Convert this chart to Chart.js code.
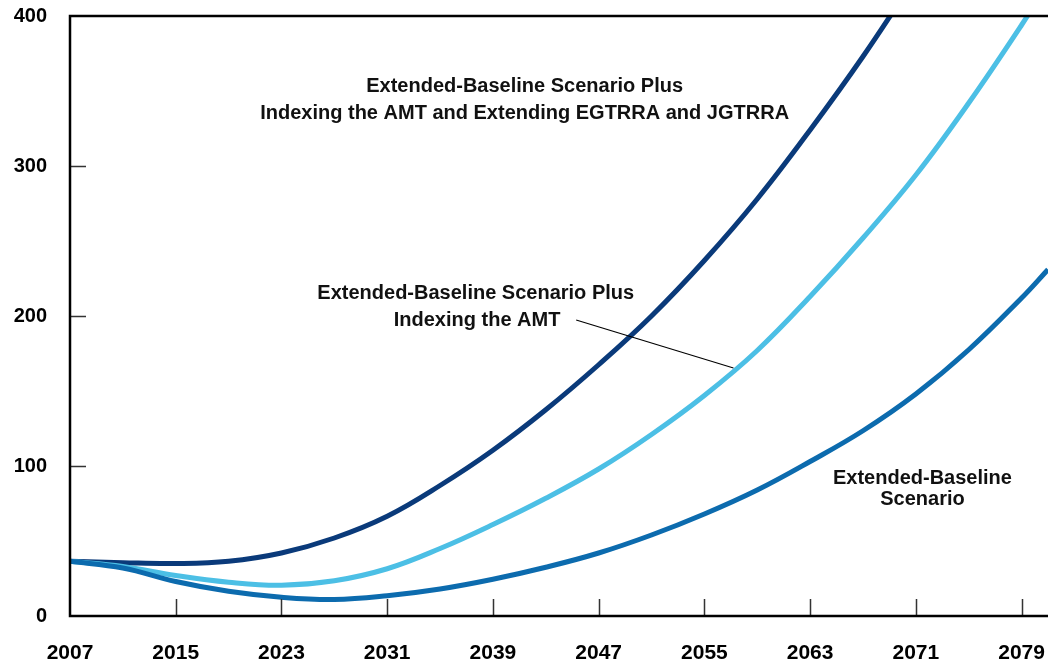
<!DOCTYPE html>
<html>
<head>
<meta charset="utf-8">
<script src="https://cdn.jsdelivr.net/npm/chart.js@4/dist/chart.umd.min.js"></script>
<style>
    html, body { margin: 0; padding: 0; background: #fff; }
</style>
</head>
<body>
<canvas id="myChart" width="1048" height="661"></canvas>
<script>
const years = [2007, 2011, 2015, 2019, 2023, 2027, 2031, 2035, 2039, 2043, 2047, 2051, 2055, 2059, 2063, 2067, 2071, 2075, 2079, 2081];
const baseline = [36.5, 32, 23, 16.5, 12.5, 11, 13.5, 18, 24.5, 32.5, 42, 54, 68, 84, 103, 123.5, 148, 177.5, 212, 231];
const indexingAmt = [36.5, 33, 27, 22.5, 20.5, 23.5, 31.5, 45, 61, 78.5, 98, 121, 147, 177, 213, 252, 294, 342, 394, 422];
const indexingAmtExtending = [36.5, 35.5, 35, 36.5, 42, 52, 66.5, 87, 110.5, 137.5, 167.5, 200, 237, 278, 324, 373, 426, null, null, null];
const xTicks = [2007, 2015, 2023, 2031, 2039, 2047, 2055, 2063, 2071, 2079];
const yTicks = [0, 100, 200, 300, 400];

const FONT = '"Liberation Sans", Arial, sans-serif';

function points(values) {
    return years.map((yr, i) => ({ x: yr, y: values[i] })).filter(p => p.y !== null);
}

// labels placed in data units (year, value)
const labels = [
    { x: 2041.4, y: 353, text: 'Extended-Baseline Scenario Plus' },
    { x: 2041.4, y: 334.7, text: 'Indexing the AMT and Extending EGTRRA and JGTRRA' },
    { x: 2037.7, y: 215, text: 'Extended-Baseline Scenario Plus' },
    { x: 2037.8, y: 197, text: 'Indexing the AMT' },
    { x: 2071.5, y: 92, text: 'Extended-Baseline' },
    { x: 2071.5, y: 77.5, text: 'Scenario' },
];
const leader = [{ x: 2045.3, y: 197.3 }, { x: 2057.2, y: 165.3 }];

const frame = {
    id: 'frame',
    afterDraw: (chart) => {
        const { ctx, chartArea, scales } = chart;
        const xs = scales.x, ys = scales.y;
        ctx.save();
        // tick marks, inward
        ctx.strokeStyle = '#333';
        ctx.lineWidth = 1.5;
        ctx.beginPath();
        xTicks.slice(1).forEach(v => {
            const px = Math.round(xs.getPixelForValue(v)) + 0.5;
            ctx.moveTo(px, chartArea.bottom);
            ctx.lineTo(px, chartArea.bottom - 17);
        });
        yTicks.slice(1, -1).forEach(v => {
            const py = Math.round(ys.getPixelForValue(v)) + 0.5;
            ctx.moveTo(chartArea.left, py);
            ctx.lineTo(chartArea.left + 16, py);
        });
        ctx.stroke();

        // axis lines
        ctx.strokeStyle = '#000';
        ctx.lineWidth = 2.5;
        ctx.beginPath();
        ctx.moveTo(chartArea.right, chartArea.top);
        ctx.lineTo(chartArea.left, chartArea.top);
        ctx.lineTo(chartArea.left, chartArea.bottom);
        ctx.lineTo(chartArea.right, chartArea.bottom);
        ctx.stroke();

        // leader line
        ctx.lineWidth = 1.2;
        ctx.beginPath();
        ctx.moveTo(xs.getPixelForValue(leader[0].x), ys.getPixelForValue(leader[0].y));
        ctx.lineTo(xs.getPixelForValue(leader[1].x), ys.getPixelForValue(leader[1].y));
        ctx.stroke();

        // labels
        ctx.fillStyle = '#111';
        ctx.font = 'bold 20px ' + FONT;
        ctx.textAlign = 'center';
        ctx.textBaseline = 'middle';
        labels.forEach(l => {
            ctx.fillText(l.text, xs.getPixelForValue(l.x), ys.getPixelForValue(l.y));
        });
        ctx.restore();
    }
};

const ctx = document.getElementById('myChart').getContext('2d');
const chart = new Chart(ctx, {
    type: 'line',
    data: {
        datasets: [{
            label: 'Extended-Baseline Scenario',
            data: points(baseline),
            borderColor: '#0c6bae',
        }, {
            label: 'Extended-Baseline Scenario Plus Indexing the AMT',
            data: points(indexingAmt),
            borderColor: '#4cbfe5',
        }, {
            label: 'Extended-Baseline Scenario Plus Indexing the AMT and Extending EGTRRA and JGTRRA',
            data: points(indexingAmtExtending),
            borderColor: '#0a3a7a',
        }].map(ds => Object.assign(ds, {
            borderWidth: 5,
            pointRadius: 0,
            fill: false,
            tension: 0.4,
            clip: 0,
        }))
    },
    options: {
        responsive: false,
        animation: false,
        layout: { padding: { top: 16, left: 0, right: 0, bottom: 0 } },
        plugins: {
            legend: { display: false },
            tooltip: { enabled: false },
        },
        scales: {
            x: {
                type: 'linear',
                min: 2007,
                max: 2081,
                border: { display: false },
                grid: { display: false, drawTicks: false },
                afterBuildTicks: (s) => { s.ticks = xTicks.map(v => ({ value: v })); },
                afterFit: (s) => { s.height = 45; s.paddingLeft = 0; s.paddingRight = 0; },
                ticks: {
                    autoSkip: false,
                    maxRotation: 0,
                    padding: 25,
                    color: '#000',
                    font: { family: FONT, size: 21, weight: 'bold' },
                    callback: (v) => String(v),
                },
            },
            y: {
                min: 0,
                max: 400,
                border: { display: false },
                grid: { display: false, drawTicks: false },
                afterBuildTicks: (s) => { s.ticks = yTicks.map(v => ({ value: v })); },
                afterFit: (s) => { s.width = 70; s.paddingTop = 0; s.paddingBottom = 0; },
                ticks: {
                    padding: 23,
                    color: '#000',
                    font: { family: FONT, size: 20, weight: 'bold' },
                    callback: (v) => String(v),
                },
            },
        },
    },
    plugins: [frame],
});
</script>
</body>
</html>
